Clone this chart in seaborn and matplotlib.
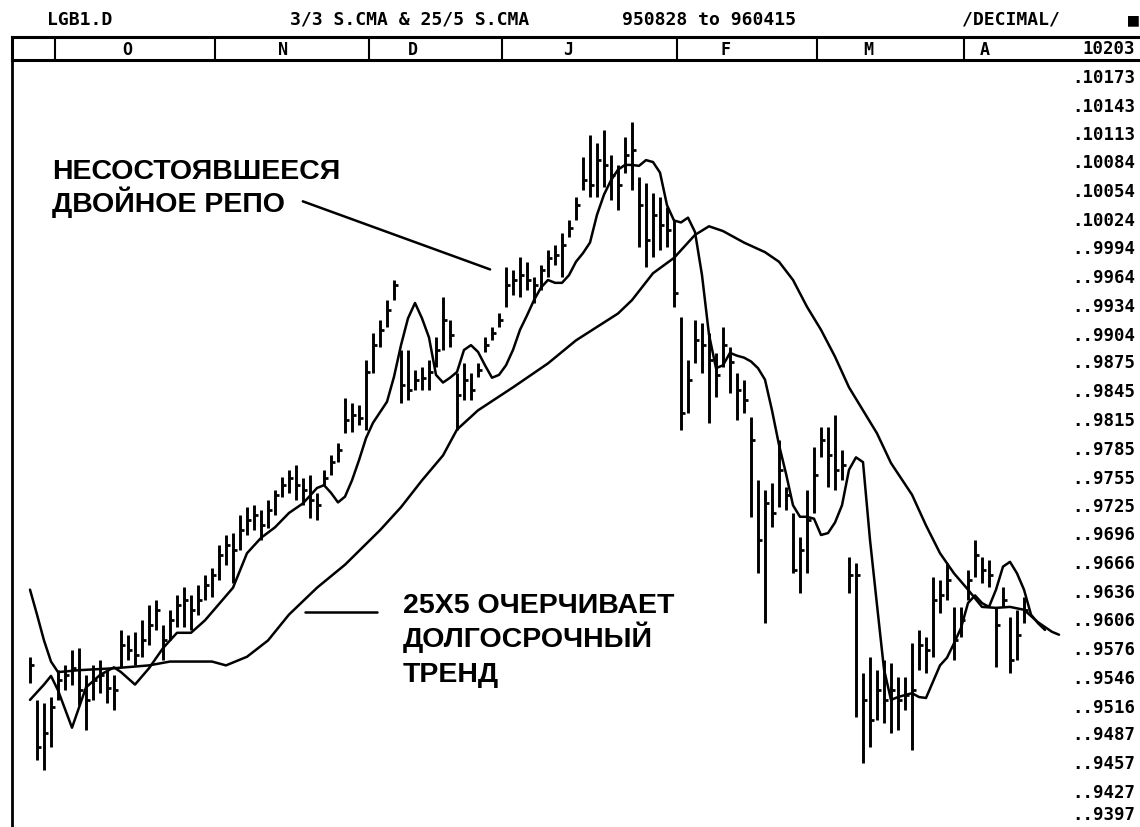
import numpy as np
import pandas as pd
import matplotlib
matplotlib.use("Agg")
import matplotlib.pyplot as plt
import seaborn as sns

# LGB1 daily bars, one entry per trading day (late Sep 95 .. Apr 96)
highs = [9567, 9522, 9519, 9525, 9553, 9558, 9574, 9576, 9548, 9558,
         9564, 9553, 9548, 9595, 9590, 9593, 9605, 9621, 9626, 9600,
         9616, 9631, 9640, 9631, 9642, 9652, 9660, 9684, 9694, 9696,
         9715, 9723, 9725, 9720, 9730, 9741, 9754, 9762, 9767, 9753,
         9757, 9738, 9762, 9777, 9790, 9837, 9832, 9830, 9877, 9905,
         9918, 9939, 9960, 9887, 9887, 9866, 9869, 9877, 9901, 9942,
         9918, 9863, 9873, 9863, 9873, 9901, 9911, 9926, 9974, 9970,
         9984, 9979, 9963, 9976, 9991, 9996, 10009, 10023, 10047, 10088,
         10111, 10103, 10116, 10090, 10080, 10109, 10125, 10067, 10061, 10051,
         10047, 10036, 10023, 9921, 9876, 9918, 9915, 9905, 9884, 9911,
         9890, 9863, 9856, 9817, 9751, 9741, 9748, 9793, 9744, 9717,
         9692, 9741, 9786, 9807, 9807, 9819, 9783, 9671, 9665, 9550,
         9567, 9553, 9564, 9560, 9546, 9546, 9581, 9595, 9588, 9650,
         9647, 9665, 9619, 9619, 9657, 9689, 9671, 9668, 9619, 9640,
         9608, 9616, 9629]
lows = [9540, 9459, 9449, 9473, 9522, 9532, 9538, 9517, 9491, 9522,
        9529, 9519, 9511, 9556, 9564, 9558, 9567, 9579, 9595, 9564,
        9584, 9598, 9598, 9595, 9611, 9626, 9629, 9647, 9663, 9644,
        9678, 9694, 9699, 9689, 9701, 9715, 9734, 9738, 9730, 9725,
        9712, 9710, 9746, 9757, 9770, 9800, 9801, 9809, 9804, 9863,
        9890, 9911, 9939, 9832, 9835, 9845, 9845, 9845, 9869, 9887,
        9890, 9804, 9835, 9835, 9859, 9885, 9897, 9911, 9932, 9944,
        9942, 9950, 9936, 9950, 9963, 9976, 9963, 10005, 10023, 10054,
        10047, 10047, 10057, 10043, 10033, 10072, 10054, 9994, 9974, 9984,
        9991, 9994, 9932, 9804, 9821, 9873, 9863, 9811, 9838, 9869,
        9842, 9814, 9821, 9713, 9654, 9602, 9702, 9723, 9720, 9654,
        9634, 9654, 9717, 9775, 9744, 9741, 9751, 9634, 9504, 9456,
        9473, 9501, 9498, 9487, 9491, 9511, 9470, 9553, 9550, 9567,
        9613, 9626, 9564, 9588, 9626, 9650, 9644, 9640, 9556, 9619,
        9550, 9564, 9602]
closes = [9558, 9473, 9487, 9515, 9543, 9548, 9555, 9532, 9522, 9543,
          9548, 9534, 9532, 9579, 9574, 9569, 9584, 9600, 9616, 9584,
          9605, 9621, 9626, 9616, 9626, 9642, 9652, 9673, 9684, 9678,
          9699, 9710, 9715, 9704, 9720, 9736, 9746, 9753, 9746, 9741,
          9730, 9725, 9753, 9770, 9783, 9814, 9819, 9816, 9864, 9892,
          9908, 9929, 9955, 9850, 9845, 9856, 9858, 9864, 9887, 9918,
          9903, 9840, 9856, 9845, 9866, 9892, 9905, 9918, 9955, 9960,
          9965, 9960, 9955, 9970, 9983, 9986, 9996, 10014, 10038, 10064,
          10059, 10085, 10080, 10069, 10059, 10090, 10096, 10038, 10002, 10028,
          10017, 10012, 9946, 9821, 9856, 9897, 9892, 9876, 9861, 9892,
          9874, 9845, 9835, 9793, 9689, 9727, 9717, 9762, 9736, 9657,
          9678, 9710, 9757, 9793, 9777, 9762, 9767, 9652, 9652, 9522,
          9501, 9532, 9522, 9532, 9522, 9527, 9532, 9579, 9574, 9626,
          9631, 9647, 9584, 9605, 9647, 9673, 9657, 9652, 9600, 9626,
          9564, 9590, 9616]

# 3/3 simple MA
ma3_day = [0, 2, 3, 4, 6, 8, 10, 12, 13, 15, 17, 19, 21, 23, 25, 27, 29, 31, 33, 35,
           37, 39, 41, 42, 43, 44, 45, 46, 47, 48, 49, 51, 52, 53, 54, 55, 56, 57, 58] + list(range(59, 146))
ma3_val = [9522, 9538, 9547, 9532, 9493, 9535, 9548, 9556, 9551, 9538,
           9555, 9576, 9592, 9592, 9605, 9622, 9639, 9675, 9691, 9702,
           9717, 9727, 9743, 9746, 9738, 9728, 9734, 9751, 9772, 9795,
           9811, 9833, 9859, 9892, 9920, 9936, 9920, 9900, 9861,
           9853, 9858, 9864, 9887, 9892, 9885, 9871, 9858, 9861, 9871,
           9887, 9908, 9923, 9939, 9952, 9960, 9957, 9957, 9965, 9979,
           9988, 9999, 10028, 10049, 10064, 10075, 10080, 10080, 10079, 10085,
           10083, 10072, 10038, 10022, 10020, 10025, 10010, 9965, 9903, 9868,
           9871, 9884, 9881, 9879, 9875, 9868, 9856, 9824, 9788, 9758,
           9725, 9713, 9713, 9711, 9694, 9696, 9707, 9725, 9762, 9775,
           9770, 9689, 9621, 9554, 9522, 9525, 9527, 9529, 9525, 9524,
           9541, 9558, 9566, 9581, 9597, 9623, 9631, 9623, 9619, 9637,
           9661, 9666, 9654, 9637, 9611, 9602, 9595]

# 25/5 simple MA
ma25_day = [0, 1, 2, 3, 4, 7, 12, 17, 20, 26, 28, 31, 34, 37, 41, 45, 50, 53, 56, 59,
            61, 64, 69, 74, 78, 81, 84, 86, 89, 92, 95, 97, 99, 102, 105, 107, 109, 111, 113, 115,
            117, 119, 121, 123, 126, 128, 130, 132, 134, 136, 138, 140, 142, 144, 146, 147]
ma25_val = [9637, 9611, 9584, 9562, 9551, 9553, 9555, 9558, 9562, 9562,
            9558, 9567, 9584, 9611, 9639, 9663, 9699, 9723, 9751, 9777,
            9804, 9824, 9848, 9873, 9897, 9911, 9925, 9939, 9967, 9983,
            10007, 10016, 10011, 9999, 9989, 9979, 9960, 9932, 9908, 9880,
            9848, 9824, 9800, 9769, 9736, 9704, 9675, 9654, 9637, 9619,
            9618, 9619, 9616, 9603, 9593, 9590]

month_names = ["O", "N", "D", "J", "F", "M", "A"]
month_edges = [3.5, 26.5, 48.5, 67.5, 92.5, 112.5, 133.5]
month_label_day = [13.9, 36.1, 54.7, 76.9, 99.3, 119.7, 136.4]

price_ticks = [10203, 10173, 10143, 10113, 10084, 10054, 10024, 9994, 9964, 9934,
               9904, 9875, 9845, 9815, 9785, 9755, 9725, 9696, 9666, 9636,
               9606, 9576, 9546, 9516, 9487, 9457, 9427, 9397]

bars = pd.DataFrame({"high": highs, "low": lows, "close": closes})
bars["day"] = np.arange(len(bars))
ma3 = pd.DataFrame({"day": ma3_day, "val": ma3_val})
ma25 = pd.DataFrame({"day": ma25_day, "val": ma25_val})

sns.set_theme(style="white")
plt.rcParams["font.family"] = ["DejaVu Sans", "Liberation Sans"]
plt.rcParams["text.color"] = "black"
plt.rcParams["ytick.color"] = "black"
plt.rcParams["ytick.labelcolor"] = "black"

W, H = 1140, 827
PX_DAY = 7.0          # pixels per trading day
fig = plt.figure(figsize=(W / 100, H / 100), dpi=100)
fig.patch.set_facecolor("white")

ax = fig.add_axes([12 / W, 0, 1050 / W, 790 / H])
ax.set_facecolor("white")
ax.set_xlim(-18 / PX_DAY, 1032 / PX_DAY)
ax.set_ylim(10252 - 1.043 * 827, 10252 - 1.043 * 37)

# price bars: high-low line plus close tick
ax.vlines(bars["day"], bars["low"], bars["high"], colors="black", linewidth=2.1)
ax.hlines(bars["close"], bars["day"], bars["day"] + 0.6, colors="black", linewidth=2.0)

sns.lineplot(data=ma25, x="day", y="val", color="black", linewidth=1.8, ax=ax, legend=False)
sns.lineplot(data=ma3, x="day", y="val", color="black", linewidth=1.8, ax=ax, legend=False)

ax.set_xlabel("")
ax.set_ylabel("")
ax.set_xticks([])
ax.yaxis.tick_right()
ax.set_yticks(price_ticks)
labels = []
for v in price_ticks:
    s = str(v)
    if v == price_ticks[0]:
        labels.append(s)
    elif len(s) == 5:
        labels.append("." + s)
    else:
        labels.append(".." + s)
ax.set_yticklabels(labels, fontfamily="DejaVu Sans Mono", fontweight="bold", fontsize=12.5,
                   color="black")
ax.tick_params(axis="y", length=0, pad=52.5)
plt.setp(ax.get_yticklabels(), ha="right", va="center_baseline")
# bottom label sits on its tick so it stays inside the picture
ax.get_yticklabels()[-1].set_va("baseline")
for side in ["top", "right", "bottom"]:
    ax.spines[side].set_visible(False)
ax.spines["left"].set_color("black")
ax.spines["left"].set_linewidth(2)
ax.grid(False)

# annotations
note = dict(family="Liberation Sans", fontweight="bold", fontsize=20.5, color="black",
            ha="left", va="baseline")
ax.text(3.1, 10065, "НЕСОСТОЯВШЕЕСЯ", **note)
ax.text(3.1, 10031, "ДВОЙНОЕ РЕПО", **note)
ax.annotate("", xy=(66.1, 9970), xytext=(38.6, 10043),
            arrowprops=dict(arrowstyle="-", color="black", lw=1.8))
for txt, yb in zip(["25Х5 ОЧЕРЧИВАЕТ", "ДОЛГОСРОЧНЫЙ", "ТРЕНД"], [9613, 9577, 9541]):
    ax.text(53.3, yb, txt, **note)
ax.plot([39.3, 49.6], [9614, 9614], color="black", lw=1.8)

# month band
band = fig.add_axes([12 / W, (H - 60) / H, (W - 12) / W, 23 / H])
band.set_xlim(-18 / PX_DAY, 1110 / PX_DAY)
band.set_ylim(0, 1)
band.patch.set_alpha(0)
band.set_xticks([])
band.set_yticks([])
for side in ["top", "bottom", "left"]:
    band.spines[side].set_color("black")
    band.spines[side].set_linewidth(2.2)
band.spines["right"].set_visible(False)
for e in month_edges:
    band.axvline(e, color="black", lw=1.5)
for name, d in zip(month_names, month_label_day):
    band.text(d, 0.42, name, ha="center", va="center", family="DejaVu Sans Mono",
              fontweight="bold", fontsize=12, color="black")

# header line
hdr = dict(family="DejaVu Sans Mono", fontweight="bold", fontsize=13, va="center",
           ha="left", color="black")
fig.text(47 / W, 1 - 20 / H, "LGB1.D", **hdr)
fig.text(290 / W, 1 - 20 / H, "3/3 S.CMA & 25/5 S.CMA", **hdr)
fig.text(622 / W, 1 - 20 / H, "950828 to 960415", **hdr)
fig.text(962 / W, 1 - 20 / H, "/DECIMAL/", **hdr)
fig.text(1128 / W, 1 - 20 / H, "■", **hdr)

fig.savefig("out.png", dpi=100, facecolor="white")
